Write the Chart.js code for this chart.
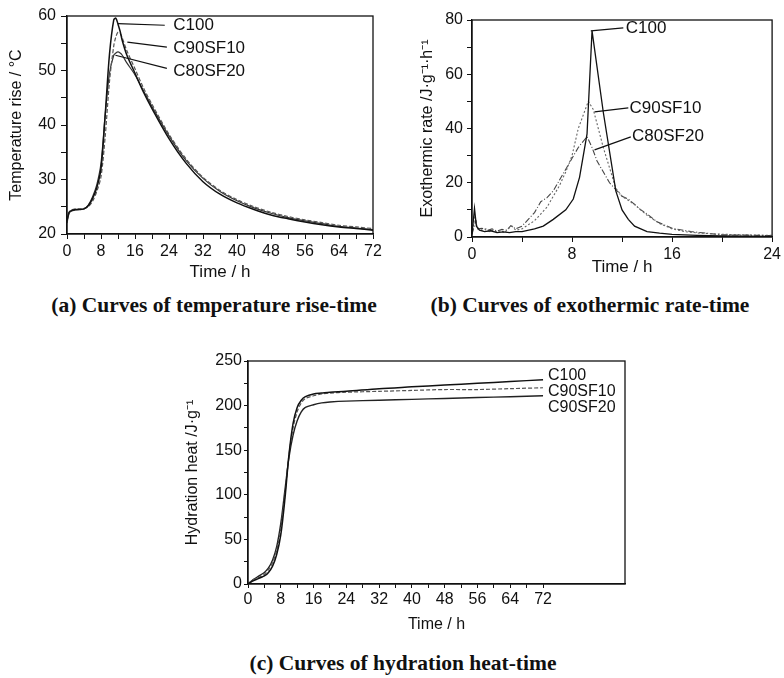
<!DOCTYPE html>
<html>
<head>
<meta charset="utf-8">
<script src="https://cdn.jsdelivr.net/npm/chart.js@4.4.0/dist/chart.umd.min.js"></script>
<style>
  body { margin: 0; background: #fff; width: 784px; height: 678px; position: relative; overflow: hidden; }
  canvas { position: absolute; }
  .cap { position: absolute; font: bold 21.5px "Liberation Serif", "Times New Roman", serif; color: #111;
         white-space: nowrap; transform: translate(-50%, -50%); }
</style>
</head>
<body>
<canvas id="chartA" width="400" height="290" style="left:0;top:0"></canvas>
<canvas id="chartB" width="384" height="290" style="left:400px;top:0"></canvas>
<canvas id="chartC" width="490" height="300" style="left:150px;top:340px"></canvas>
<div class="cap" style="left:214px;top:305px">(a) Curves of temperature rise-time</div>
<div class="cap" style="left:590px;top:305px">(b) Curves of exothermic rate-time</div>
<div class="cap" style="left:403px;top:663px">(c) Curves of hydration heat-time</div>

<script>
// (a) temperature rise
const tempTime    = [0, 0.5, 1, 2, 3, 4, 5, 6, 7, 8, 9, 10, 11, 11.5, 12, 12.5, 13, 14, 16, 18, 20, 24, 28, 32, 36, 40, 44, 48, 52, 56, 60, 64, 68, 72];
const tempC100    = [22.5, 24, 24.3, 24.5, 24.5, 24.6, 25.2, 26.5, 28.5, 32, 42, 53, 59.3, 59.6, 58.5, 57.2, 55.5, 53, 49.5, 46, 43, 37.5, 33, 29.6, 27.3, 25.7, 24.5, 23.5, 22.8, 22.2, 21.7, 21.3, 21, 20.7];
const tempC90SF10 = [22.5, 24, 24.4, 24.6, 24.6, 24.7, 25, 26, 27.8, 30.5, 38, 48, 54.5, 56.2, 57, 56.8, 56, 53.8, 50.3, 46.8, 43.8, 38.3, 33.8, 30.4, 28, 26.3, 25, 24, 23.2, 22.6, 22.1, 21.6, 21.3, 21];
const tempC80SF20 = [22, 23.8, 24.2, 24.4, 24.5, 24.6, 25.3, 26.8, 29, 33, 42, 49.5, 52.8, 53.2, 53.4, 53.2, 52.8, 51.5, 49.2, 46.3, 43.4, 38, 33.5, 30.2, 27.8, 26.1, 24.8, 23.8, 23, 22.4, 21.9, 21.4, 21.1, 20.8];

// (b) exothermic rate
const rateTimeC100 = [0, 0.2, 0.35, 0.6, 1, 1.5, 2, 2.5, 3, 3.5, 4, 5, 5.7, 6.5, 7.5, 8.1, 8.6, 9.2, 9.6, 10.5, 11.5, 12, 12.5, 13, 14, 15, 16, 18, 20, 22, 24];
const rateC100     = [1, 10.5, 4, 2.5, 2, 2.3, 1.6, 1.9, 1.6, 2, 2, 3, 4, 6.5, 10, 14, 22, 38, 76, 46, 17, 10, 6.5, 4, 2, 1.4, 1, 0.6, 0.4, 0.3, 0.2];
const rateTimeC90SF10 = [0, 0.25, 0.4, 0.8, 1.1, 1.4, 1.7, 2, 2.3, 2.6, 3, 3.2, 3.5, 4, 5, 6, 7, 7.5, 8, 8.5, 9.3, 9.7, 10.5, 11.5, 12, 13, 14, 15, 16, 17, 18, 20, 22, 24];
const rateC90SF10     = [1, 8, 3.5, 2.5, 3, 2, 2.6, 1.8, 2.4, 1.6, 3.5, 4, 2.5, 3, 6, 11, 19, 24, 30, 40, 50, 47, 33, 18, 15, 12, 8, 5, 3, 2, 1.5, 1, 0.8, 0.6];
const rateTimeC80SF20 = [0, 0.3, 0.45, 0.8, 1.2, 1.6, 2, 2.4, 2.8, 3.1, 3.5, 4, 4.5, 5, 5.5, 6, 6.5, 7, 7.5, 8, 8.5, 9.2, 9.6, 10, 11, 12, 12.5, 13, 13.5, 14, 14.8, 16, 17.5, 20, 22, 24];
const rateC80SF20     = [1, 6, 3, 3.2, 2.4, 3, 2.2, 2.8, 2.5, 4.2, 3, 4, 6.5, 9, 13, 14.5, 17, 21, 25, 29, 33, 37, 33, 28, 20, 15, 14, 12, 10, 8.5, 5.6, 3.2, 2, 0.8, 0.7, 0.5];

// (c) hydration heat
const heatTime    = [0, 1, 2, 3, 4, 5, 6, 7, 8, 9, 10, 11, 12, 13, 14, 16, 18, 20, 24, 32, 40, 48, 56, 64, 72];
const heatC100    = [0, 3, 5, 7, 9, 13, 20, 33, 55, 95, 145, 180, 198, 206, 210, 213, 214, 215, 216, 219, 221, 223, 225, 227, 229];
const heatC90SF10 = [0, 4, 6, 8, 11, 16, 24, 38, 62, 100, 145, 175, 193, 203, 208, 211, 213, 214, 215, 216, 217, 218, 218, 219, 220];
const heatC90SF20 = [0, 4, 7, 10, 13, 18, 27, 42, 68, 105, 142, 167, 183, 193, 198, 201, 203, 204, 205, 206, 207, 208, 209, 210, 211];

const namesAB = ["C100", "C90SF10", "C80SF20"];
const namesC  = ["C100", "C90SF10", "C90SF20"];

const FONT = '"Liberation Sans", Arial, sans-serif';
const INK = '#111';

function pts(xs, ys) {
  return xs.map((x, i) => ({ x: x, y: ys[i] }));
}

function line(label, xs, ys, color, width, dash) {
  return {
    label: label, data: pts(xs, ys),
    borderColor: color, borderWidth: width, borderDash: dash || [],
    pointRadius: 0, tension: 0.3, fill: false
  };
}

// box around the plot area
const framePlugin = {
  id: 'frame',
  afterDraw(chart) {
    const a = chart.chartArea, ctx = chart.ctx;
    ctx.save();
    ctx.strokeStyle = INK;
    ctx.lineWidth = 1.3;
    ctx.strokeRect(a.left, a.top, a.right - a.left, a.bottom - a.top);
    ctx.restore();
  }
};

// series names with leader lines, placed in data units
function callouts(items, size) {
  return {
    id: 'callouts',
    afterDatasetsDraw(chart) {
      const ctx = chart.ctx, x = chart.scales.x, y = chart.scales.y;
      ctx.save();
      ctx.font = size + 'px ' + FONT;
      ctx.fillStyle = INK;
      ctx.strokeStyle = INK;
      ctx.lineWidth = 1.2;
      ctx.textAlign = 'left';
      ctx.textBaseline = 'middle';
      items.forEach(it => {
        if (it.from) {
          ctx.beginPath();
          ctx.moveTo(x.getPixelForValue(it.from[0]), y.getPixelForValue(it.from[1]));
          ctx.lineTo(x.getPixelForValue(it.to[0]), y.getPixelForValue(it.to[1]));
          ctx.stroke();
        }
        ctx.fillText(it.text, x.getPixelForValue(it.at[0]), y.getPixelForValue(it.at[1]));
      });
      ctx.restore();
    }
  };
}

function xAxis(o) {
  return {
    type: 'linear', min: o.min, max: o.max,
    ticks: {
      stepSize: o.step, autoSkip: false, maxRotation: 0, color: INK, padding: o.tickPad,
      font: { family: FONT, size: o.fs },
      callback: v => (v % o.major === 0 && v <= o.lastLabel) ? v : ''
    },
    afterBuildTicks: s => { s.ticks = s.ticks.filter(t => t.value <= o.lastTick); },
    grid: { drawOnChartArea: false, tickLength: o.tickLen, color: INK },
    border: { color: INK, width: 1.3 },
    title: { display: true, text: 'Time / h', color: INK, font: { family: FONT, size: o.tfs }, padding: { top: 0, bottom: o.titlePad } },
    afterFit: s => { s.height = o.height; }
  };
}

function yAxis(o) {
  return {
    type: 'linear', min: o.min, max: o.max,
    ticks: {
      stepSize: o.step, autoSkip: false, color: INK, padding: o.tickPad,
      font: { family: FONT, size: o.fs },
      callback: v => (v % o.major === 0) ? v : ''
    },
    grid: { drawOnChartArea: false, tickLength: o.tickLen, color: INK },
    border: { color: INK, width: 1.3 },
    title: { display: true, text: o.title, color: INK, font: { family: FONT, size: o.tfs }, padding: { top: o.titlePad, bottom: 0 } },
    afterFit: s => { s.width = o.width; }
  };
}

function baseOptions(pad, x, y) {
  return {
    responsive: false, animation: false,
    layout: { padding: pad },
    plugins: { legend: { display: false }, tooltip: { enabled: false } },
    scales: { x: x, y: y }
  };
}

// ---- (a)
new Chart('chartA', {
  type: 'line',
  data: {
    datasets: [
      line(namesAB[0], tempTime, tempC100, '#111', 1.5),
      line(namesAB[1], tempTime, tempC90SF10, '#555', 1.2, [4, 2]),
      line(namesAB[2], tempTime, tempC80SF20, '#333', 1.2)
    ]
  },
  options: baseOptions({ left: 0, top: 16, right: 27, bottom: 0 },
    xAxis({ min: 0, max: 72, step: 4, major: 8, lastLabel: 72, lastTick: 72, fs: 16, tfs: 17, tickPad: 3, tickLen: 5, titlePad: 7, height: 56 }),
    yAxis({ min: 20, max: 60, step: 5, major: 10, fs: 16, tfs: 16, tickPad: 5, tickLen: 6, titlePad: 7, width: 67, title: 'Temperature rise / °C' })),
  plugins: [framePlugin, callouts([
    { text: namesAB[0], from: [12, 58.6], to: [23, 58.3], at: [25, 58.3] },
    { text: namesAB[1], from: [14.2, 55.2], to: [23.5, 54.3], at: [25, 54.1] },
    { text: namesAB[2], from: [11.4, 52.8], to: [23.5, 50.4], at: [25, 49.9] }
  ], 17)]
});

// ---- (b)
new Chart('chartB', {
  type: 'line',
  data: {
    datasets: [
      Object.assign(line(namesAB[0], rateTimeC100, rateC100, '#111', 1.3), { tension: 0 }),
      Object.assign(line(namesAB[1], rateTimeC90SF10, rateC90SF10, '#666', 1.1, [2, 2]), { tension: 0 }),
      Object.assign(line(namesAB[2], rateTimeC80SF20, rateC80SF20, '#444', 1.1, [6, 2, 1, 2]), { tension: 0 })
    ]
  },
  options: baseOptions({ left: 0, top: 20, right: 9, bottom: 0 },
    xAxis({ min: 0, max: 24, step: 4, major: 8, lastLabel: 24, lastTick: 24, fs: 16, tfs: 17, tickPad: 3, tickLen: 5, titlePad: 12, height: 53 }),
    yAxis({ min: 0, max: 80, step: 10, major: 20, fs: 16, tfs: 16, tickPad: 4, tickLen: 5, titlePad: 18, width: 72, title: 'Exothermic rate /J·g⁻¹·h⁻¹' })),
  plugins: [framePlugin, callouts([
    { text: namesAB[0], from: [9.5, 76], to: [12.1, 77.1], at: [12.3, 77] },
    { text: namesAB[1], from: [9.8, 46.1], to: [12.5, 47.6], at: [12.6, 47.6] },
    { text: namesAB[2], from: [9.8, 32.1], to: [12.7, 36.9], at: [12.8, 37] }
  ], 17)]
});

// ---- (c)
new Chart('chartC', {
  type: 'line',
  data: {
    datasets: [
      line(namesC[0], heatTime, heatC100, '#111', 1.5),
      line(namesC[1], heatTime, heatC90SF10, '#555', 1.2, [4, 2]),
      line(namesC[2], heatTime, heatC90SF20, '#222', 1.4)
    ]
  },
  options: baseOptions({ left: 0, top: 21, right: 15, bottom: 0 },
    xAxis({ min: 0, max: 92, step: 4, major: 8, lastLabel: 72, lastTick: 72, fs: 16, tfs: 16, tickPad: 2, tickLen: 4, titlePad: 6, height: 56 }),
    yAxis({ min: 0, max: 250, step: 25, major: 50, fs: 16, tfs: 16, tickPad: 2, tickLen: 4, titlePad: 33, width: 98, title: 'Hydration heat /J·g⁻¹' })),
  plugins: [framePlugin, callouts([
    { text: namesC[0], at: [73.2, 234] },
    { text: namesC[1], at: [73.2, 216] },
    { text: namesC[2], at: [73.2, 198] }
  ], 16)]
});
</script>
</body>
</html>
